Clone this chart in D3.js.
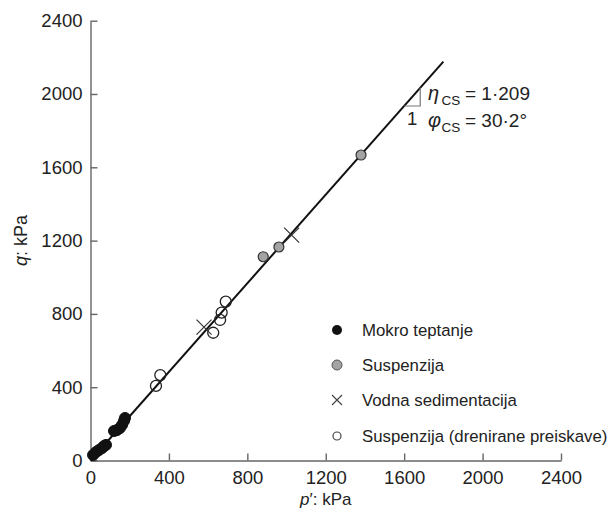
<!DOCTYPE html>
<html>
<head>
<meta charset="utf-8">
<script src="https://cdn.jsdelivr.net/npm/d3@7"></script>
<style>
  html, body { margin: 0; padding: 0; background: #fff; }
  svg { display: block; }
  text { font-family: "Liberation Sans", Arial, sans-serif; fill: #222; }
</style>
</head>
<body>
<svg id="chart" width="611" height="508"></svg>
<script>
// ---- data ----
const xTicks = [0, 400, 800, 1200, 1600, 2000, 2400];
const yTicks = [0, 400, 800, 1200, 1600, 2000, 2400];

const mokroP = [13, 28, 43, 59, 69, 79, 120, 135, 150, 161, 171, 176];
const mokroQ = [30, 46, 57, 68, 79, 85, 161, 166, 177, 194, 216, 232];

const suspP = [881, 961, 1380];
const suspQ = [1112, 1165, 1667];

const vodnaP = [579, 1026];
const vodnaQ = [728, 1230];

const drenP = [334, 356, 626, 661, 669, 690];
const drenQ = [407, 466, 697, 767, 807, 867];

const etaCS = 1.209;
const lineP = [0, 1800];

const legendLabels = ["Mokro teptanje", "Suspenzija", "Vodna sedimentacija", "Suspenzija (drenirane preiskave)"];

// ---- chart ----
const svg = d3.select("#chart");
const x = d3.scaleLinear().domain([0, 2400]).range([90.5, 561]);
const y = d3.scaleLinear().domain([0, 2400]).range([460.5, 20.7]);

const axisColor = "#666";
const fmt = d3.format("d");

const xAxis = svg.append("g")
  .attr("transform", `translate(0,${y(0)})`)
  .call(d3.axisBottom(x).tickValues(xTicks).tickFormat(fmt).tickSizeInner(-7).tickSizeOuter(0).tickPadding(10));
const yAxis = svg.append("g")
  .attr("transform", `translate(${x(0)},0)`)
  .call(d3.axisLeft(y).tickValues(yTicks).tickFormat(fmt).tickSizeInner(-7).tickSizeOuter(0).tickPadding(8));

[xAxis, yAxis].forEach(g => {
  g.select(".domain").attr("stroke", axisColor).attr("stroke-width", 1.4);
  g.selectAll(".tick line").attr("stroke", axisColor).attr("stroke-width", 1.4);
  g.selectAll(".tick text")
    .attr("font-family", "'Liberation Sans', Arial, sans-serif")
    .attr("font-size", 18.5).attr("fill", "#222");
});
xAxis.selectAll(".tick text").attr("dy", "0.71em").attr("y", 10);

// axis titles
svg.append("text")
  .attr("transform", `translate(27,${(y(0) + y(2400)) / 2}) rotate(-90)`)
  .attr("text-anchor", "middle").attr("font-size", 18)
  .call(t => {
    t.append("tspan").attr("font-style", "italic").text("q");
    t.append("tspan").text(": kPa");
  });
svg.append("text")
  .attr("x", (x(0) + x(2400)) / 2).attr("y", 505)
  .attr("text-anchor", "middle").attr("font-size", 17)
  .call(t => {
    t.append("tspan").attr("font-style", "italic").text("p");
    t.append("tspan").text("′: kPa");
  });

// critical state line
svg.append("path")
  .datum(lineP)
  .attr("d", d3.line().x(p => x(p)).y(p => y(etaCS * p)))
  .attr("stroke", "#111").attr("stroke-width", 2).attr("fill", "none");

// slope triangle
const t0 = 1600, t1 = 1682;
svg.append("path")
  .attr("d", `M${x(t0)},${y(etaCS * t0)} L${x(t1)},${y(etaCS * t0)} L${x(t1)},${y(etaCS * t1)}`)
  .attr("stroke", "#777").attr("stroke-width", 1.2).attr("fill", "none");
svg.append("text").attr("x", x((t0 + t1) / 2)).attr("y", y(etaCS * t0) + 19)
  .attr("text-anchor", "middle").attr("font-size", 18.5).attr("fill", "#333").text("1");

// annotation text
function annot(sym, val, baseY) {
  svg.append("text").attr("x", 428).attr("y", baseY).attr("font-size", 20)
    .attr("font-style", "italic").attr("fill", "#333").text(sym);
  svg.append("text").attr("x", 441.5).attr("y", baseY + 5).attr("font-size", 13.5)
    .attr("fill", "#333").text("CS");
  svg.append("text").attr("x", 465).attr("y", baseY).attr("font-size", 19)
    .attr("fill", "#333").text("= " + val);
}
annot("η", "1·209", 100);
annot("φ", "30·2°", 127);

// markers
const mokro = mokroP.map((p, i) => ({ p, q: mokroQ[i] }));
const susp = suspP.map((p, i) => ({ p, q: suspQ[i] }));
const vodna = vodnaP.map((p, i) => ({ p, q: vodnaQ[i] }));
const dren = drenP.map((p, i) => ({ p, q: drenQ[i] }));

svg.append("g").selectAll("circle").data(dren).join("circle")
  .attr("cx", d => x(d.p)).attr("cy", d => y(d.q)).attr("r", 5.5)
  .attr("fill", "none").attr("stroke", "#222").attr("stroke-width", 1.3);

svg.append("g").selectAll("circle").data(mokro).join("circle")
  .attr("cx", d => x(d.p)).attr("cy", d => y(d.q)).attr("r", 5.5)
  .attr("fill", "#111").attr("stroke", "#111");

svg.append("g").selectAll("circle").data(susp).join("circle")
  .attr("cx", d => x(d.p)).attr("cy", d => y(d.q)).attr("r", 5)
  .attr("fill", "#a3a3a3").attr("stroke", "#333").attr("stroke-width", 1.2);

const cs = 7.5;
svg.append("g").selectAll("path").data(vodna).join("path")
  .attr("d", d => `M${x(d.p) - cs},${y(d.q) - cs}L${x(d.p) + cs},${y(d.q) + cs}M${x(d.p) - cs},${y(d.q) + cs}L${x(d.p) + cs},${y(d.q) - cs}`)
  .attr("stroke", "#333").attr("stroke-width", 1.2).attr("fill", "none");

// legend
const legY = [330, 365, 400, 436];
const lx = 337, tx = 362;
const lg = svg.append("g");
lg.append("circle").attr("cx", lx).attr("cy", legY[0]).attr("r", 5).attr("fill", "#111");
lg.append("circle").attr("cx", lx).attr("cy", legY[1]).attr("r", 5).attr("fill", "#a3a3a3").attr("stroke", "#555").attr("stroke-width", 1);
lg.append("path").attr("d", `M${lx - 5},${legY[2] - 5}L${lx + 5},${legY[2] + 5}M${lx - 5},${legY[2] + 5}L${lx + 5},${legY[2] - 5}`)
  .attr("stroke", "#444").attr("stroke-width", 1.2);
lg.append("circle").attr("cx", lx).attr("cy", legY[3]).attr("r", 4).attr("fill", "none").attr("stroke", "#444").attr("stroke-width", 1.2);
legendLabels.forEach((lab, i) => {
  lg.append("text").attr("x", tx).attr("y", legY[i] + 6).attr("font-size", 16.8).attr("fill", "#222").text(lab);
});
</script>
</body>
</html>
